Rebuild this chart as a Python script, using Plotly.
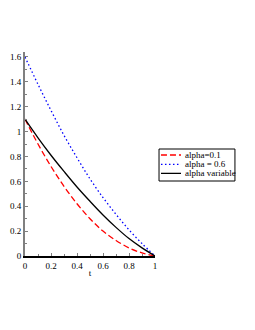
import plotly.graph_objects as go

t = [0, 0.1, 0.2, 0.3, 0.4, 0.5, 0.6, 0.7, 0.8, 0.9, 1.0]
alpha_01 = [1.1, 0.90, 0.72, 0.56, 0.42, 0.30, 0.20, 0.125, 0.065, 0.025, 0.0]
alpha_06 = [1.6, 1.38, 1.17, 0.97, 0.79, 0.62, 0.47, 0.335, 0.21, 0.10, 0.0]
alpha_var = [1.1, 0.95, 0.81, 0.68, 0.555, 0.44, 0.33, 0.23, 0.14, 0.065, 0.0]
series_names = ["alpha=0.1", "alpha = 0.6", "alpha variable"]
x_ticks = [0, 0.2, 0.4, 0.6, 0.8, 1]
x_labels = ["0", "0.2", "0.4", "0.6", "0.8", "1"]
y_ticks = [0, 0.2, 0.4, 0.6, 0.8, 1, 1.2, 1.4, 1.6]
y_labels = ["0", "0.2", "0.4", "0.6", "0.8", "1", "1.2", "1.4", "1.6"]

font = "Liberation Serif"
colors = ["#ff0000", "#0000ff", "#000000"]
dashes = ["6px,3px", "1.5px,2.5px", "solid"]

fig = go.Figure()
for name, ys, c, d in zip(series_names, [alpha_01, alpha_06, alpha_var], colors, dashes):
    fig.add_trace(go.Scatter(x=t, y=ys, mode="lines", name=name, showlegend=False,
                             line=dict(color=c, dash=d, width=1.3, shape="spline")))

# manual compact legend (paper coordinates)
fig.add_shape(type="rect", xref="paper", yref="paper", x0=1.031, x1=1.615,
              y0=0.3676, y1=0.5245, line=dict(color="black", width=1), fillcolor="white")
legend_y = [0.495, 0.4495, 0.405]
for name, c, d, ly in zip(series_names, colors, dashes, legend_y):
    fig.add_shape(type="line", xref="paper", yref="paper", x0=1.046, x1=1.2, y0=ly, y1=ly,
                  line=dict(color=c, dash=d, width=1.3))
    fig.add_annotation(xref="paper", yref="paper", x=1.215, y=ly, text=name, showarrow=False,
                       xanchor="left", yanchor="middle",
                       font=dict(family=font, size=9, color="black"))

fig.update_layout(
    width=247, height=322,
    margin=dict(l=17, r=100, t=44, b=74, autoexpand=False),
    paper_bgcolor="white", plot_bgcolor="white",
    font=dict(family=font, size=9, color="black"),
    showlegend=False,
    xaxis=dict(range=[0, 1.0], tickvals=x_ticks, ticktext=x_labels, automargin=False,
               showgrid=False, zeroline=False, showline=True, linecolor="black",
               linewidth=1.5, ticks="inside", ticklen=3, tickcolor="gray",
               title=dict(text="t", font=dict(family=font, size=9), standoff=0),
               minor=dict(dtick=0.1, ticks="inside", ticklen=2, tickcolor="gray")),
    yaxis=dict(range=[0, 1.64], tickvals=y_ticks, ticktext=y_labels, automargin=False,
               showgrid=False, zeroline=False, showline=True, linecolor="gray",
               linewidth=2, ticks="inside", ticklen=3, tickcolor="gray",
               minor=dict(dtick=0.1, ticks="inside", ticklen=2, tickcolor="gray")),
)

fig.write_html("out.html")
